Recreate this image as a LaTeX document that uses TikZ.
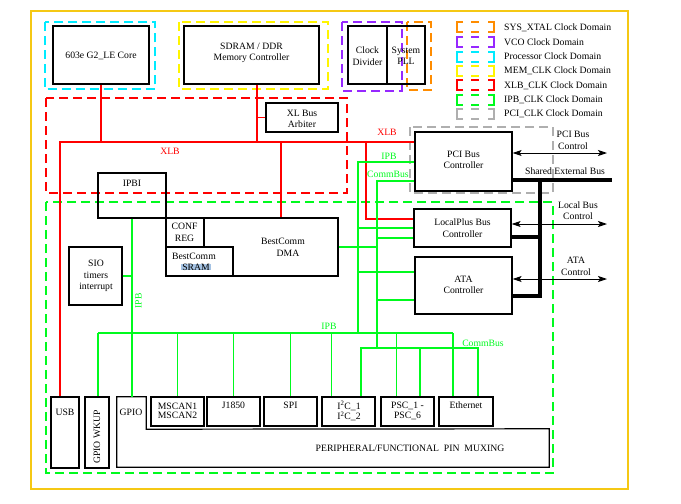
\documentclass[tikz,border=0pt]{standalone}
\usepackage{fontspec}
\setmainfont{Liberation Serif}
\usetikzlibrary{arrows.meta,fit}
\definecolor{frameY}{RGB}{245,200,20}
\definecolor{cyanD}{RGB}{0,235,255}
\definecolor{yellowD}{RGB}{255,245,0}
\definecolor{purpleD}{RGB}{150,40,255}
\definecolor{orangeD}{RGB}{255,140,0}
\definecolor{redD}{RGB}{255,0,0}
\definecolor{greenD}{RGB}{0,250,30}
\definecolor{grayD}{RGB}{175,175,175}
\definecolor{hlblue}{RGB}{165,195,228}
\newcommand\fs{\fontsize{9.7}{11.5}\selectfont}
\newcommand\fst{\fontsize{9.7}{9.3}\selectfont}
\begin{document}
\begin{tikzpicture}[x=1pt,y=-1pt,
  box/.style={draw, line width=1.2pt, inner sep=0pt},
  txt/.style={inner sep=0pt, align=center, font=\fs},
  txtt/.style={inner sep=0pt, align=center, font=\fst},
  dom/.style={line width=1.9pt, dash pattern=on 9pt off 5pt},
  xlbl/.style={redD, line width=2pt},
  ipbl/.style={greenD, line width=1.5pt},
  cbl/.style={greenD, line width=2.7pt},
  extl/.style={black, line width=4pt},
  ctl/.style={black, line width=0.9pt, {Stealth[length=9pt,width=6pt,inset=2pt]}-{Stealth[length=9pt,width=6pt,inset=2pt]}},
  lbl/.style={inner sep=0pt, font=\fs}]
\useasboundingbox (0,0) rectangle (681,504);
% frame
\draw[frameY, line width=2.5pt] (31,11) rectangle (628,489);

% domains
\draw[dom, cyanD] (44.7,22) rectangle (155,89);
\draw[dom, yellowD] (179,22) rectangle (328,89);
\draw[dom, purpleD] (342,22) rectangle (402,91);
\draw[dom, orangeD] (407,22) rectangle (431,90);
\draw[dom, redD] (46,98) rectangle (347,193);
\draw[dom, greenD] (46,202) rectangle (553,473);
\draw[dom, grayD] (410,127) rectangle (553,193);

% legend
\foreach \y/\c/\t [count=\i] in {27.3/orangeD/SYS\_XTAL Clock Domain,
  42/purpleD/VCO Clock Domain, 56.6/cyanD/Processor Clock Domain,
  71/yellowD/MEM\_CLK Clock Domain, 85.3/redD/XLB\_CLK Clock Domain,
  99.6/greenD/IPB\_CLK Clock Domain, 114/grayD/PCI\_CLK Clock Domain}{
  \draw[\c, line width=1.8pt] (463,\y-5) -- (457,\y-5) -- (457,\y+5) -- (463,\y+5);
  \draw[\c, line width=1.8pt] (471,\y-5) -- (479,\y-5) (471,\y+5) -- (479,\y+5);
  \draw[\c, line width=1.8pt] (488,\y-5) -- (494,\y-5) -- (494,\y+5) -- (488,\y+5);
  \node[lbl, anchor=west] (leg\i) at (504,\y) {\t};
}

% boxes
\node[box, fit={(53,26)(149,84)}] (core) {};
\node[txt] (tcore) at (101,56) {603e G2\_LE Core};
\node[box, fit={(184,26)(319,84)}] (sdram) {};
\node[txt] (tsdram) at (251.5,53) {SDRAM / DDR\\Memory Controller};
\node[box, fit={(348,26)(387,84)}] (clkdiv) {};
\node[txt] (tclkdiv) at (367.5,56) {Clock\\Divider};
\node[box, fit={(387,26)(425,84)}] (pll) {};
\node[txt] (tpll) at (406,56) {System\\PLL};
\node[box, fit={(266,103)(338,132)}] (arb) {};
\node[txt] (tarb) at (302,119) {XL Bus\\Arbiter};
\node[box, fit={(98,173)(166,218)}] (ipbi) {};
\node[txt] (tipbi) at (132,183) {IPBI};
\node[box, fit={(166,218)(338,276)}] (dma) {};
\node[txt] (tdma) at (283,247.5) {BestComm\\\hspace*{10pt}DMA};
\node[box, fit={(166,218)(204,247)}] (conf) {};
\node[txt] (tconf) at (184.5,232.5) {CONF\\REG};
\node[box, fit={(166,247)(233,276)}] (sram) {};
\node[txt] (tsram1) at (194,256) {BestComm};
\node[txt, fill=hlblue, inner xsep=1pt] (tsram2) at (196,267) {SRAM};
\node[box, fit={(69,247)(122,305)}] (sio) {};
\node[txt] (tsio) at (96,276) {SIO\\timers\\interrupt};
\node[box, fit={(415,132)(512,191)}] (pci) {};
\node[txt] (tpci) at (463.5,160) {PCI Bus\\Controller};
\node[box, fit={(414,209)(511,247)}] (lpc) {};
\node[txt] (tlpc) at (462.5,228) {LocalPlus Bus\\Controller};
\node[box, fit={(415,257)(512,314)}] (ata) {};
\node[txt] (tata) at (463.5,285) {ATA\\Controller};

\node[box, fit={(51,397)(79,468)}] (usb) {};
\node[txt] (tusb) at (65,412) {USB};
\node[box, fit={(85,397)(109,468)}] (gpw) {};
\node[txt, rotate=90] (tgpw) at (97,437) {GPIO WKUP};
\node[inner sep=0pt, fit={(117,397)(146,429)}] (gpio) {};
\node[inner sep=0pt, fit={(117,429)(549,467)}] (mux) {};
\draw[line width=1.2pt] (mux.south west) -- (gpio.north west) -- (gpio.north east)
  -- (gpio.south east) -- (mux.north east) -- (mux.south east) -- cycle;
\node[txt] (tgpio) at (131,412) {GPIO};
\node[txt] (tmux) at (410,448) {PERIPHERAL/FUNCTIONAL\ \ PIN\ \ MUXING};
\node[box, fit={(151,397)(204,426)}] (mscan) {};
\node[txtt] (tmscan) at (177.5,410.5) {MSCAN1\\MSCAN2};
\node[box, fit={(207,397)(260,426)}] (j1850) {};
\node[txt] (tj1850) at (233.5,405) {J1850};
\node[box, fit={(264,397)(317,426)}] (spi) {};
\node[txt] (tspi) at (290.5,405) {SPI};
\node[box, fit={(322,397)(375,426)}] (i2c) {};
\node[txtt] (ti2c) at (349,411) {I\textsuperscript{2}C\_1\\I\textsuperscript{2}C\_2};
\node[box, fit={(381,397)(434,426)}] (psc) {};
\node[txtt] (tpsc) at (407.5,411) {PSC\_1 -\\PSC\_6};
\node[box, fit={(439,397)(493,426)}] (eth) {};
\node[txt] (teth) at (466,405) {Ethernet};

% coordinates
\coordinate (xlbL) at (60,142);
\coordinate (sdx) at (257,142);
\coordinate (dmx) at (281,142);
\coordinate (lpx) at (366,142);
\coordinate (lpy) at (366,219);
\coordinate (ipbL) at (98,333);
\coordinate (ipbR) at (453,333);
\coordinate (ipbT) at (358,162);
\coordinate (ipbA) at (358,272);
\coordinate (cbT) at (377,181);
\coordinate (cbL) at (377,238);
\coordinate (cbA) at (377,300);
\coordinate (cbB) at (377,348);
\coordinate (cbBL) at (361,348);
\coordinate (cbBM) at (420,348);
\coordinate (cbBR) at (478,348);
\coordinate (sebR) at (612,180);
\coordinate (sebJ) at (540,180);
\coordinate (sebL) at (540,237);
\coordinate (sebA) at (540,296);
\coordinate (arP) at (607,153);
\coordinate (arL) at (607,224);
\coordinate (arA) at (607,279);

% XLB (red)
\draw[xlbl] (core.south) -- (core.south |- xlbL);
\draw[xlbl] (sdram.south -| sdx) -- (sdx);
\draw[redD, line width=1pt] (arb.west) -- (arb.west -| sdx);
\draw[xlbl] (xlbL -| pci.west) -- (xlbL) -- (xlbL |- usb.north);
\draw[xlbl] (dmx) -- (dmx |- dma.north);
\draw[xlbl] (lpx) -- (lpy) -- (lpy -| lpc.west);
\node[lbl, text=redD] (xlb1) at (170,151) {XLB};
\node[lbl, text=redD] (xlb2) at (387,132) {XLB};

% IPB (thin green)
\draw[ipbl] (ipbi.south) -- (ipbi.south |- gpio.north);
\draw[ipbl] (sio.east) -- (sio.east -| ipbi.south);
\draw[ipbl] (ipbL) -- (ipbR);
\draw[ipbl] (ipbL) -- (ipbL |- gpw.north);
\draw[ipbl] (mscan.north |- ipbL) -- (mscan.north);
\draw[ipbl] (j1850.north |- ipbL) -- (j1850.north);
\draw[ipbl] (spi.north |- ipbL) -- (spi.north);
\draw[ipbl] ([xshift=10pt]i2c.north west |- ipbL) -- ([xshift=10pt]i2c.north west);
\draw[ipbl] ([xshift=16pt]psc.north west |- ipbL) -- ([xshift=16pt]psc.north west);
\draw[ipbl] (ipbR) -- (ipbR |- eth.north);
\draw[ipbl] (ipbT -| pci.west) -- (ipbT) -- (ipbT |- ipbL);
\draw[ipbl] (lpc.west) -- (lpc.west -| ipbT);
\draw[ipbl] (ipbA -| ata.west) -- (ipbA);
\node[lbl, text=greenD] (ipb1) at (389,156) {IPB};
\node[lbl, text=greenD] (ipb2) at (329,326) {IPB};
\node[lbl, text=greenD, rotate=90] (ipb3) at (138.5,301) {IPB};

% CommBus (thick green)
\draw[cbl] (cbT -| pci.west) -- (cbT) -- (cbB);
\draw[cbl] (cbL) -- (cbL -| lpc.west);
\draw[cbl] (cbA) -- (cbA -| ata.west);
\draw[cbl] (dma.east) -- (dma.east -| cbT);
\draw[cbl] (cbBL |- i2c.north) -- (cbBL) -- (cbBR) -- (cbBR |- eth.north);
\draw[cbl] (cbBM) -- (cbBM |- psc.north);
\node[lbl, text=greenD] (cb1) at (388,174) {CommBus};
\node[lbl, text=greenD] (cb2) at (483,343) {CommBus};

% shared external bus
\draw[extl] (sebR -| pci.east) -- (sebR);
\draw[extl] (sebL -| lpc.east) -- (sebL);
\draw[extl] (sebJ) -- (sebA) -- (sebA -| ata.east);
\node[lbl] (tseb) at (565,171) {Shared External Bus};

% control arrows
\draw[ctl] (arP -| pci.east) -- (arP);
\draw[ctl] (arL -| lpc.east) -- (arL);
\draw[ctl] (arA -| ata.east) -- (arA);
\node[txt] (tpcic) at (573,140.5) {PCI Bus\\Control};
\node[txt] (tlbc) at (578,210.5) {Local Bus\\Control};
\node[txt] (tatac) at (576,266.5) {ATA\\Control};
\end{tikzpicture}
\end{document}
